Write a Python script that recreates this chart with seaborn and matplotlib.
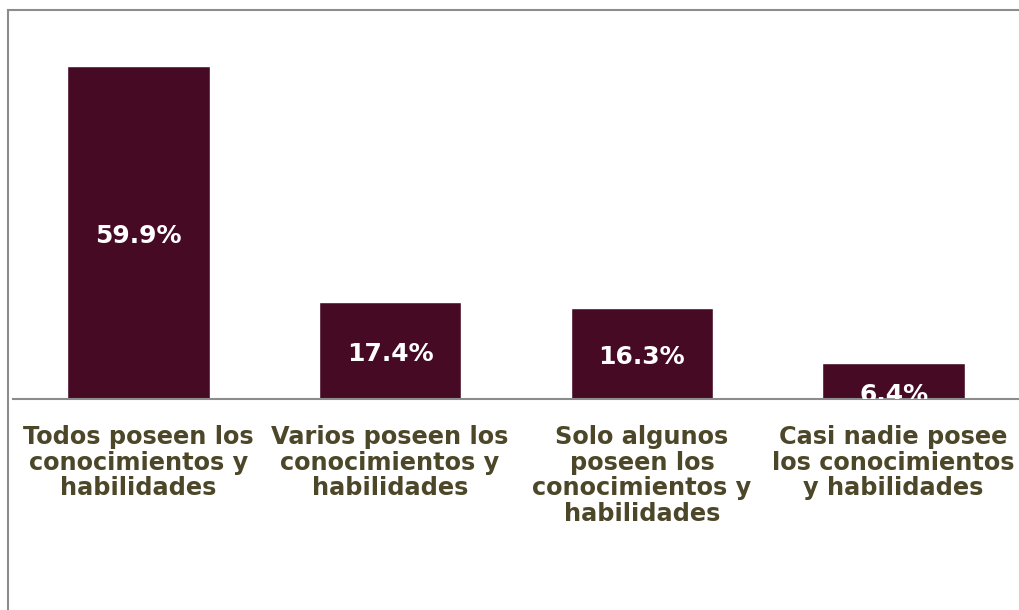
import matplotlib
matplotlib.use('Agg')
import matplotlib.pyplot as plt
import seaborn as sns
from matplotlib.patches import Rectangle

# data
categorias = ['Todos poseen los\nconocimientos y\nhabilidades',
              'Varios poseen los\nconocimientos y\nhabilidades',
              'Solo algunos\nposeen los\nconocimientos y\nhabilidades',
              'Casi nadie posee\nlos conocimientos\ny habilidades']
valores = [59.9, 17.4, 16.3, 6.4]

sns.set_theme(style='white')
plt.rcParams['font.family'] = ['DejaVu Sans']

fig = plt.figure(figsize=(10.19, 6.10), dpi=100)
ax = fig.add_axes([12.5 / 1019, 211 / 610, 1007 / 1019, 389 / 610])

sns.barplot(x=categorias, y=valores, color='#470A24', saturation=1, width=0.567, ax=ax)

ax.set_ylim(0, 70)
ax.set_xlim(-0.5, 3.5)
ax.set_yticks([])
ax.set_xlabel('')
ax.set_ylabel('')
for s in ['top', 'right', 'left']:
    ax.spines[s].set_visible(False)
ax.spines['bottom'].set_color('#8C8C8C')
ax.spines['bottom'].set_linewidth(1.5)

ax.tick_params(axis='x', length=0, pad=19)
for lab in ax.get_xticklabels():
    lab.set_fontsize(17.3)
    lab.set_fontweight('bold')
    lab.set_color('#4D4729')
    lab.set_multialignment('center')
    lab.set_linespacing(1.08)

# value labels
for i, v in enumerate(valores):
    y = v / 2 - 0.6
    if v < 10:
        y = 0.8
    ax.text(i, y, f'{v:.1f}%', ha='center', va='center', color='white',
            fontsize=18, fontweight='bold', clip_on=True)

# outer border
fig.patches.append(Rectangle((8 / 1019, -0.05), 1.1, 1.05 - 9.5 / 610,
                             transform=fig.transFigure, fill=False,
                             edgecolor='#8C8C8C', linewidth=1.5))

fig.savefig('out.png', dpi=100)
